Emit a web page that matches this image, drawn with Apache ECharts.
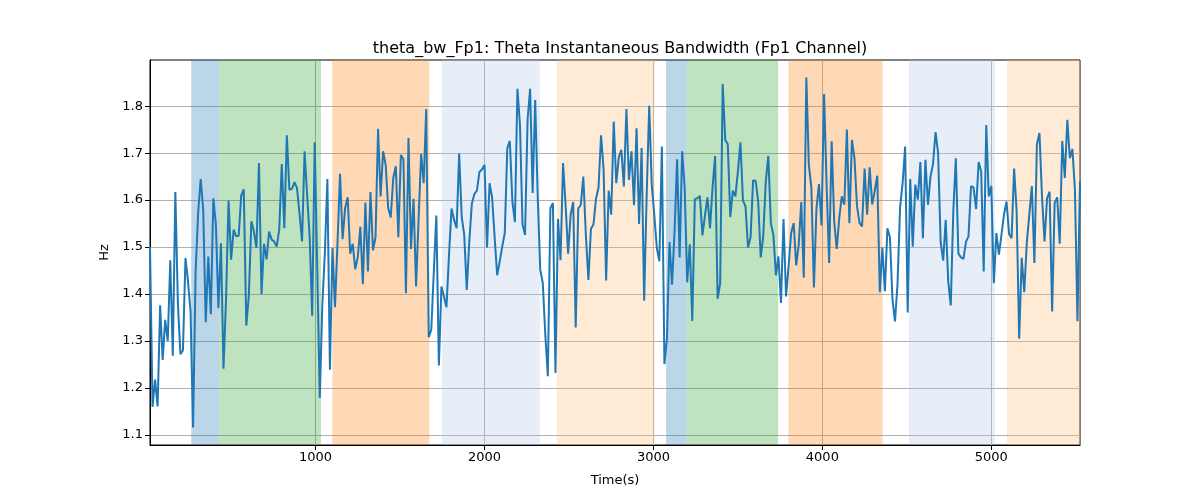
<!DOCTYPE html>
<html><head><meta charset="utf-8">
<script src="https://cdn.jsdelivr.net/npm/echarts@6/dist/echarts.min.js"></script>
<style>html,body{margin:0;padding:0;background:#fff}#c{width:1200px;height:500px}</style>
</head><body><div id="c"></div>
<script>
// Sampling grid of the series (seconds)
const timeStart = 20;
const timeStep = 15;

// Theta instantaneous bandwidth (Hz)
const bandwidthHz = [
  1.50, 1.16, 1.218, 1.161, 1.376, 1.26, 1.345, 1.30, 1.472, 1.269, 1.617, 1.381, 1.272, 1.28, 1.477, 1.427, 1.363, 1.116, 1.448, 1.572, 1.645, 1.579, 1.34, 1.48, 1.357, 1.604, 1.548, 1.37, 1.508, 1.241, 1.388, 1.599, 1.473, 1.537, 1.523, 1.524, 1.61, 1.623, 1.333, 1.397, 1.555, 1.533, 1.498, 1.679, 1.40, 1.507, 1.474,
  1.533, 1.516, 1.512, 1.501, 1.537, 1.677, 1.54, 1.738, 1.622, 1.624, 1.638, 1.626, 1.572, 1.512, 1.704, 1.611, 1.523, 1.354, 1.723, 1.455, 1.179, 1.377, 1.487, 1.645, 1.239, 1.498, 1.372, 1.509, 1.656, 1.517, 1.583, 1.606, 1.486, 1.507, 1.453, 1.479, 1.543, 1.421, 1.595, 1.448, 1.617, 1.493, 1.521, 1.752, 1.608, 1.704,
  1.675, 1.583, 1.563, 1.647, 1.672, 1.521, 1.696, 1.687, 1.402, 1.732, 1.496, 1.603, 1.416, 1.562, 1.698, 1.636, 1.794, 1.308, 1.324, 1.448, 1.567, 1.248, 1.416, 1.395, 1.372, 1.484, 1.582, 1.558, 1.54, 1.699, 1.565, 1.526, 1.409, 1.512, 1.592, 1.613, 1.62, 1.66, 1.665, 1.675, 1.499, 1.636, 1.606, 1.521, 1.44, 1.469, 1.501, 1.53, 1.711,
  1.726, 1.597, 1.553, 1.837, 1.76, 1.548, 1.526, 1.771, 1.837, 1.615, 1.813, 1.608, 1.452, 1.423, 1.313, 1.225, 1.583, 1.594, 1.232, 1.56, 1.472, 1.679, 1.59, 1.486, 1.569, 1.596, 1.329, 1.582, 1.59, 1.65, 1.526, 1.43, 1.539, 1.548, 1.603, 1.627, 1.738, 1.665, 1.429, 1.62, 1.569, 1.767, 1.636, 1.691, 1.707, 1.629,
  1.794, 1.643, 1.704, 1.589, 1.753, 1.549, 1.711, 1.386, 1.611, 1.801, 1.633, 1.569, 1.498, 1.47, 1.714, 1.251, 1.306, 1.511, 1.42, 1.533, 1.687, 1.478, 1.704, 1.626, 1.425, 1.506, 1.343, 1.602, 1.604, 1.609, 1.525, 1.567, 1.606, 1.54, 1.627, 1.694, 1.39, 1.423, 1.847, 1.728, 1.719, 1.564, 1.62, 1.608, 1.661, 1.723, 1.599, 1.587, 1.499,
  1.521, 1.642, 1.641, 1.597, 1.478, 1.523, 1.64, 1.694, 1.551, 1.526, 1.44, 1.48, 1.381, 1.56, 1.395, 1.459, 1.53, 1.551, 1.461, 1.505, 1.596, 1.435, 1.861, 1.675, 1.626, 1.414, 1.582, 1.634, 1.546, 1.826, 1.633, 1.466, 1.725, 1.555, 1.496, 1.562, 1.608, 1.59, 1.75, 1.551, 1.728, 1.689, 1.587, 1.551, 1.544, 1.667,
  1.569, 1.67, 1.591, 1.62, 1.652, 1.404, 1.499, 1.406, 1.54, 1.521, 1.388, 1.342, 1.423, 1.584, 1.636, 1.714, 1.361, 1.645, 1.501, 1.633, 1.601, 1.681, 1.519, 1.686, 1.59, 1.65, 1.677, 1.745, 1.70, 1.511, 1.471, 1.558, 1.427, 1.376, 1.576, 1.689, 1.487, 1.478, 1.475, 1.511, 1.523, 1.63, 1.627, 1.581,
  1.681, 1.661, 1.448, 1.76, 1.608,
  1.63, 1.423, 1.53, 1.484, 1.526, 1.569, 1.597, 1.528, 1.519, 1.667, 1.576, 1.305, 1.477, 1.404, 1.509, 1.569, 1.63, 1.466, 1.719, 1.743, 1.608, 1.512, 1.604, 1.618, 1.363, 1.594, 1.606, 1.507, 1.726, 1.647, 1.771, 1.689, 1.709, 1.622, 1.342, 1.64
];

// Shaded intervals (seconds) and their kind
const regionStarts = [264, 430, 1099, 1748, 2428, 3075, 3196, 3799, 4512, 5093];
const regionEnds   = [430, 1032, 1673, 2328, 3006, 3196, 3738, 4356, 5022, 5540];
const regionKinds  = ['blue', 'green', 'orange', 'lightblue', 'lightorange', 'blue', 'green', 'orange', 'lightblue', 'lightorange'];

// Tick labels
const xTickValues = [1000, 2000, 3000, 4000, 5000];
const yTickValues = [1.1, 1.2, 1.3, 1.4, 1.5, 1.6, 1.7, 1.8];

const palette = {
  blue: 'rgba(31,119,180,0.3)',
  green: 'rgba(44,160,44,0.3)',
  orange: 'rgba(255,127,14,0.3)',
  lightblue: 'rgba(174,199,232,0.3)',
  lightorange: 'rgba(255,187,120,0.3)'
};

const times = bandwidthHz.map((_, i) => timeStart + i * timeStep);
const lineData = bandwidthHz.map((v, i) => [times[i], v]);
const tMin = times[0], tMax = times[times.length - 1];
const vMin = Math.min(...bandwidthHz), vMax = Math.max(...bandwidthHz);
const pad = (vMax - vMin) * 0.05;

const areas = regionStarts.map((s, i) => [
  { xAxis: s, itemStyle: { color: palette[regionKinds[i]] } },
  { xAxis: Math.min(regionEnds[i], tMax) }
]);

const font = 'DejaVu Sans';
const chart = echarts.init(document.getElementById('c'), null, { renderer: 'canvas' });
chart.setOption({
  animation: false,
  backgroundColor: '#fff',
  title: {
    text: 'theta_bw_Fp1: Theta Instantaneous Bandwidth (Fp1 Channel)',
    left: 615, top: 36, textAlign: 'center',
    textStyle: { fontFamily: font, fontSize: 16, fontWeight: 'normal', color: '#000' }
  },
  grid: { left: 150, right: 120, top: 60, bottom: 55, show: true, borderColor: '#000', borderWidth: 1, backgroundColor: 'transparent' },
  xAxis: {
    type: 'value', min: tMin, max: tMax,
    name: 'Time(s)', nameLocation: 'middle', nameGap: 29,
    nameTextStyle: { fontFamily: font, fontSize: 13, color: '#000' },
    axisLine: { show: true, lineStyle: { color: '#000', width: 1 } },
    axisTick: { show: true, length: 5, inside: false, lineStyle: { color: '#000' }, customValues: xTickValues },
    axisLabel: { fontFamily: font, fontSize: 13, color: '#000', margin: 6, customValues: xTickValues, formatter: v => String(v) },
    splitLine: { show: true, lineStyle: { color: '#b0b0b0', width: 1 } }
  },
  yAxis: {
    type: 'value', min: vMin - pad, max: vMax + pad,
    name: 'Hz', nameLocation: 'middle', nameGap: 37, nameRotate: 90,
    nameTextStyle: { fontFamily: font, fontSize: 13, color: '#000' },
    axisLine: { show: true, lineStyle: { color: '#000', width: 1 } },
    axisTick: { show: true, length: 5, inside: false, lineStyle: { color: '#000' }, customValues: yTickValues },
    axisLabel: { fontFamily: font, fontSize: 13, color: '#000', margin: 7, customValues: yTickValues, formatter: v => v.toFixed(1) },
    splitLine: { show: true, lineStyle: { color: '#b0b0b0', width: 1 } }
  },
  series: [{
    type: 'line',
    data: lineData,
    showSymbol: false,
    symbol: 'none',
    lineStyle: { color: '#1f77b4', width: 2 },
    itemStyle: { color: '#1f77b4' },
    markArea: { silent: true, data: areas }
  }]
});
</script>
</body></html>
